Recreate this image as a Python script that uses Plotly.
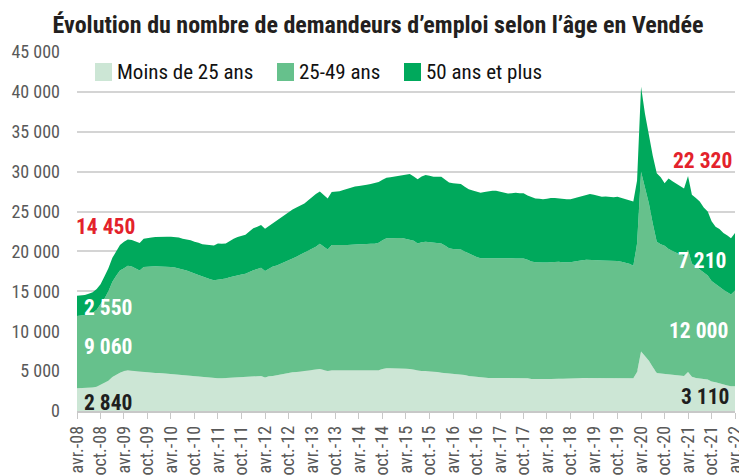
import plotly.graph_objects as go
import pandas as pd

# Monthly values, April 2008 -> April 2022 (169 months)
moins_25 = [
    2840, 2860, 2880, 2900, 2950, 3050, 3300, 3500, 3800, 4250, 4550, 4800,
    5000, 5100, 5050, 5000, 4900, 4850, 4800, 4800, 4750, 4750, 4700, 4700,
    4650, 4650, 4600, 4550, 4500, 4450, 4400, 4350, 4300, 4250, 4200, 4150,
    4100, 4120, 4150, 4200, 4250, 4280, 4300, 4320, 4330, 4350, 4370, 4380,
    4200, 4350, 4400, 4500, 4600, 4700, 4800, 4850, 4900, 4950, 5000, 5050,
    5100, 5200, 5250, 5150, 5000, 5100, 5100, 5100, 5100, 5080, 5060, 5050,
    5050, 5050, 5050, 5050, 5050, 5100, 5250, 5350, 5350, 5350, 5350, 5350,
    5300, 5250, 5150, 5050, 5020, 5000, 4980, 4950, 4900, 4800, 4750, 4700,
    4650, 4650, 4600, 4500, 4400, 4350, 4300, 4200, 4180, 4150, 4150, 4150,
    4150, 4150, 4150, 4150, 4150, 4150, 4150, 4100, 4000, 3980, 3980, 3980,
    4000, 4000, 4050, 4050, 4050, 4050, 4050, 4080, 4100, 4150, 4150, 4100,
    4100, 4120, 4130, 4120, 4100, 4100, 4100, 4100, 4100, 4100, 4100, 4900,
    7450, 6900, 6300, 5500, 4750, 4700, 4650, 4600, 4550, 4450, 4400, 4400,
    4900, 4300, 4150, 4050, 4000, 3950, 3700, 3600, 3500, 3350, 3200, 3100, 3110,
]
de_25_49 = [
    9060, 9090, 9120, 9200, 9350, 9650, 10100, 10600, 11200, 11950, 12450, 12800,
    12900, 13100, 13050, 12900, 12700, 13200, 13300, 13350, 13400, 13350, 13400, 13400,
    13400, 13350, 13300, 13200, 13100, 13000, 12850, 12700, 12550, 12400, 12300, 12250,
    12350, 12380, 12450, 12550, 12650, 12720, 12800, 12880, 13120, 13300, 13430, 13570,
    13350, 13500, 13700, 13750, 13850, 13950, 14050, 14250, 14450, 14650, 14800, 15000,
    15200, 15400, 15700, 15500, 15250, 15700, 15700, 15650, 15650, 15720, 15790, 15850,
    15850, 15850, 15900, 15900, 15900, 16000, 16150, 16300, 16300, 16350, 16350, 16350,
    16300, 16250, 16200, 15950, 16130, 16200, 16170, 16150, 16150, 16200, 15950, 15700,
    15650, 15650, 15650, 15500, 15350, 15150, 15000, 14950, 14970, 15050, 15050, 15050,
    15050, 15050, 15000, 15000, 14950, 14950, 14950, 14850, 14750, 14670, 14620, 14620,
    14600, 14650, 14650, 14650, 14600, 14600, 14600, 14670, 14750, 14750, 14800, 14850,
    14850, 14780, 14720, 14730, 14750, 14750, 14700, 14600, 14500, 14350, 14100, 16100,
    22550, 21100, 19700, 18000, 16450, 16200, 16050, 15700, 15550, 15450, 15200, 15000,
    15300, 14200, 13950, 13650, 13300, 13050, 12600, 12300, 12000, 11850, 11700, 11500, 12000,
]
plus_50 = [
    2550, 2550, 2550, 2600, 2600, 2600, 2500, 2800, 2900, 3000, 3100, 3200,
    3300, 3300, 3350, 3400, 3450, 3550, 3600, 3600, 3650, 3750, 3750, 3750,
    3800, 3800, 3850, 3850, 3900, 3950, 3950, 4050, 4050, 4200, 4300, 4350,
    4550, 4450, 4400, 4550, 4700, 4800, 4850, 4900, 5050, 5250, 5300, 5350,
    5300, 5350, 5450, 5650, 5800, 5950, 6150, 6150, 6150, 6150, 6200, 6350,
    6550, 6600, 6550, 6450, 6400, 6650, 6700, 6800, 6950, 7050, 7150, 7250,
    7300, 7350, 7400, 7500, 7600, 7600, 7600, 7600, 7650, 7700, 7750, 7800,
    8000, 8200, 8050, 8050, 8250, 8380, 8350, 8250, 8300, 8350, 8300, 8250,
    8250, 8200, 8200, 8100, 8050, 8150, 8200, 8200, 8300, 8350, 8400, 8400,
    8300, 8200, 8100, 8150, 8250, 8200, 8200, 8050, 8050, 8000, 8000, 7950,
    8000, 8050, 8000, 7950, 7900, 7900, 7900, 7950, 8000, 8050, 8150, 8250,
    8150, 8050, 8000, 8050, 8000, 7950, 8050, 8000, 8000, 8000, 8050, 7900,
    10650, 9300, 8500, 8500, 8600, 8400, 7850, 8850, 8700, 8600, 8550, 8500,
    9250, 8600, 8600, 8550, 8200, 8000, 7500, 7200, 7300, 7100, 7100, 7050, 7210,
]
months = pd.date_range("2008-04-01", periods=len(moins_25), freq="MS")

series_names = ["Moins de 25 ans", "25-49 ans", "50 ans et plus"]
series_colors = ["#cce6d5", "#66c18c", "#00a95c"]

tick_labels = [
    "avr.-08", "oct.-08", "avr.-09", "oct.-09", "avr.-10", "oct.-10", "avr.-11",
    "oct.-11", "avr.-12", "oct.-12", "avr.-13", "oct.-13", "avr.-14", "oct.-14",
    "avr.-15", "oct.-15", "avr.-16", "oct.-16", "avr.-17", "oct.-17", "avr.-18",
    "oct.-18", "avr.-19", "oct.-19", "avr.-20", "oct.-20", "avr.-21", "oct.-21",
    "avr.-22",
]
tick_dates = months[::6]

y_ticks = [0, 5000, 10000, 15000, 20000, 25000, 30000, 35000, 40000, 45000]
y_labels = ["0", "5 000", "10 000", "15 000", "20 000", "25 000", "30 000",
            "35 000", "40 000", "45 000"]

FONT = "Roboto Condensed, Liberation Sans Narrow, DejaVu Sans Condensed, Roboto, sans-serif"

fig = go.Figure()
for vals, name, col in zip([moins_25, de_25_49, plus_50], series_names, series_colors):
    fig.add_trace(go.Scatter(
        x=months, y=vals, name=name, mode="lines", stackgroup="one",
        line=dict(width=0, color=col), fillcolor=col, showlegend=False,
        hoverinfo="x+y+name",
    ))

# manual legend (square swatches), positions in page pixels
leg_x = [(95, 112, 115), (277, 294, 297), (404, 421, 424)]
W, PL, PB, H = 658, 77, 411, 359
def px(x):
    return (x - PL) / W
def py(y):
    return (PB - y) / H

for (x0, x1, tx), name, col in zip(leg_x, series_names, series_colors):
    fig.add_shape(type="rect", xref="paper", yref="paper",
                  x0=px(x0), x1=px(x1), y0=py(81), y1=py(63),
                  fillcolor=col, line=dict(width=0))
    fig.add_annotation(xref="paper", yref="paper", x=px(tx), y=py(72),
                       text=name, showarrow=False, xanchor="left", yanchor="middle",
                       font=dict(family=FONT, size=21, color="#111111"))

labels = [
    ("14 450", 74, 226, "left", "#e3222b"),
    ("2 550", 82, 307, "left", "white"),
    ("9 060", 82, 346, "left", "white"),
    ("2 840", 82, 402, "left", "#1e1e1e"),
    ("22 320", 734, 160, "right", "#e3222b"),
    ("7 210", 728, 260, "right", "white"),
    ("12 000", 730, 330, "right", "white"),
    ("3 110", 731, 396, "right", "#1e1e1e"),
]
for text, x, y, anc, col in labels:
    fig.add_annotation(xref="paper", yref="paper", x=px(x), y=py(y), text=text,
                       showarrow=False, xanchor=anc, yanchor="middle",
                       font=dict(family=FONT, size=21.5, color=col, weight="bold"))

fig.update_layout(
    width=739, height=476,
    margin=dict(l=77, r=4, t=52, b=65, autoexpand=False),
    paper_bgcolor="white", plot_bgcolor="white",
    title=dict(text="Évolution du nombre de demandeurs d’emploi selon l’âge en Vendée",
               x=378 / 739, xanchor="center", y=1 - 25 / 476, yanchor="middle",
               font=dict(family=FONT, size=24, color="#231f20", weight="bold")),
    showlegend=False,
    xaxis=dict(range=[months[0], months[-1]], tickvals=tick_dates, ticktext=tick_labels,
               tickangle=-90, ticks="outside", ticklen=6, tickcolor="#c8c8c8",
               showline=True, linecolor="#c8c8c8", linewidth=1.5, showgrid=False,
               ticklabeloverflow="allow", automargin=False,
               tickfont=dict(family=FONT, size=18, color="#595959"), fixedrange=True),
    yaxis=dict(range=[0, 45000], tickvals=y_ticks, ticktext=y_labels,
               showgrid=True, gridcolor="#d4d4d4", gridwidth=1.5, zeroline=False,
               ticks="", ticklabelstandoff=16, automargin=False,
               tickfont=dict(family=FONT, size=18, color="#595959"), fixedrange=True),
)

fig.write_html("out.html", config={"displayModeBar": False},
               post_script="document.body.style.margin='0';")
